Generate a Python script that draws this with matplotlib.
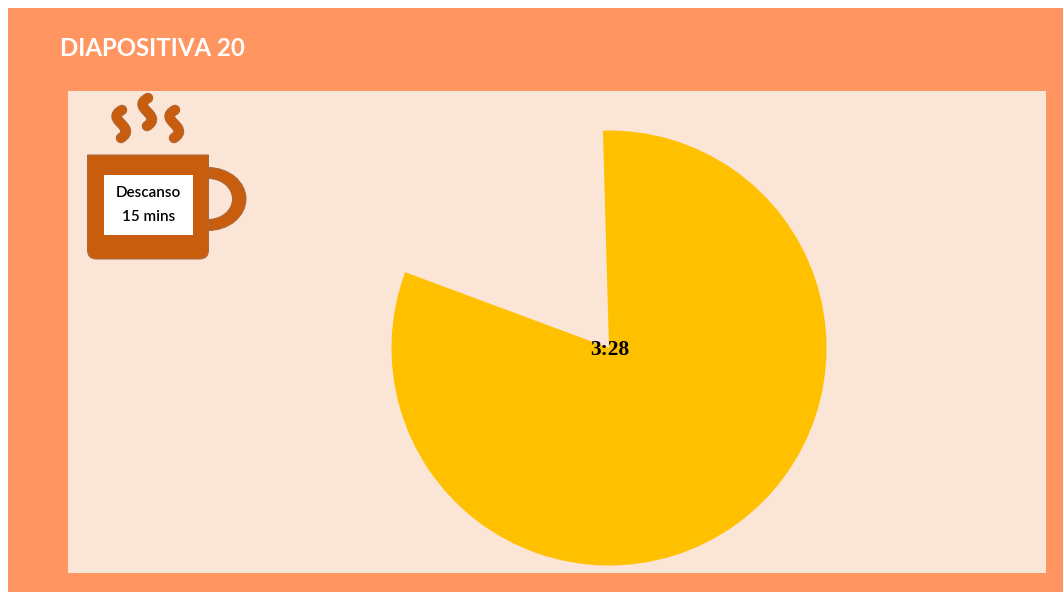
import matplotlib
matplotlib.use("Agg")
import matplotlib.pyplot as plt
from matplotlib.patches import Rectangle, Ellipse, PathPatch
from matplotlib.path import Path
import matplotlib.patheffects as pe

# pie: degrees shown vs the gap left as time runs out
slice_values = [292, 68]
slice_colors = ['#FFC000', 'none']
time_label = '3:28'
title_text = 'DIAPOSITIVA 20'
break_lines = ['Descanso', '15 mins']

W, H = 1063, 592
ORANGE = '#FF9661'
PANEL = '#FBE5D6'
MUG = '#C95D0E'
MUG_EDGE = '#A5693F'
PX = 0.72  # one pixel in points at dpi 100

fig = plt.figure(figsize=(W / 100, H / 100), dpi=100, facecolor='white')

# background drawn in pixel coords, y going down
bg = fig.add_axes([0, 0, 1, 1])
bg.set_xlim(0, W)
bg.set_ylim(H, 0)
bg.axis('off')
bg.add_patch(Rectangle((8, 8), W - 8, H - 8, fc=ORANGE, ec='none'))
bg.add_patch(Rectangle((68, 91), 978, 482, fc=PANEL, ec='none'))
bg.text(60, 48, title_text, family='Lato', weight='bold', color='white',
        fontsize=17.3, va='center', ha='left')

# ── mug ──
bg.add_patch(Ellipse((208, 199), 76, 63, fc=MUG, ec=MUG_EDGE, lw=PX))
bg.add_patch(Ellipse((208, 199), 49, 41, fc=PANEL, ec=MUG_EDGE, lw=PX))
body = Path([(87.5, 155), (208.5, 155), (208.5, 250), (208.5, 259), (199.5, 259),
             (96.5, 259), (87.5, 259), (87.5, 250), (87.5, 155)],
            [Path.MOVETO, Path.LINETO, Path.LINETO, Path.CURVE3, Path.CURVE3,
             Path.LINETO, Path.CURVE3, Path.CURVE3, Path.CLOSEPOLY])
bg.add_patch(PathPatch(body, fc=MUG, ec=MUG_EDGE, lw=PX))
bg.add_patch(Rectangle((104, 175), 89, 60, fc='white', ec='none'))
bg.text(148.5, 193, break_lines[0], family='Lato', weight='semibold', fontsize=11,
        color='black', ha='center', va='center')
bg.text(148.5, 217, break_lines[1], family='Lato', weight='semibold', fontsize=11,
        color='black', ha='center', va='center')

# steam
for dx, dy in [(0, 0), (26, -12), (53, 0)]:
    verts = [(122 + dx, 110 + dy), (104 + dx, 120 + dy), (138 + dx, 127 + dy), (121 + dx, 138 + dy)]
    codes = [Path.MOVETO, Path.CURVE4, Path.CURVE4, Path.CURVE4]
    p = PathPatch(Path(verts, codes), fc='none', ec=MUG, lw=9 * PX, capstyle='round',
                  path_effects=[pe.Stroke(linewidth=10.5 * PX, foreground=MUG_EDGE), pe.Normal()])
    bg.add_patch(p)

# ── pie ──
cx, cy, r = 609, 348, 217.5
ax = fig.add_axes([(cx - r) / W, 1 - (cy + r) / H, 2 * r / W, 2 * r / H])
ax.pie(slice_values, colors=slice_colors, startangle=91.6, counterclock=False, radius=1)
ax.set_xlim(-1, 1)
ax.set_ylim(-1, 1)
ax.text(0.005, -0.008, time_label, family='Liberation Serif', weight='bold', fontsize=15.5,
        ha='center', va='center', color='black')

fig.savefig('out.png', dpi=100)
